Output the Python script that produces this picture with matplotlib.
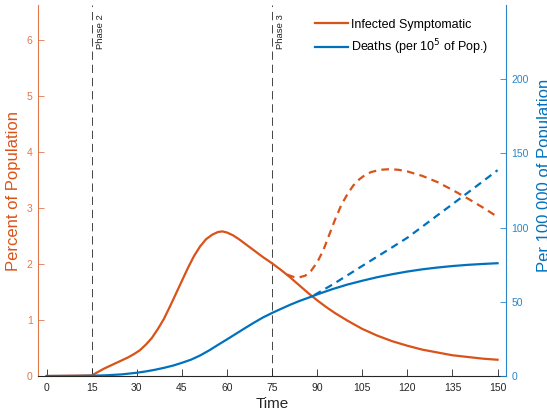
import numpy as np
import matplotlib
matplotlib.use("Agg")
import matplotlib.pyplot as plt

plt.rcParams['font.family'] = ['Liberation Sans', 'DejaVu Sans']
plt.rcParams['lines.scale_dashes'] = False

# infected symptomatic (% of population), solid
inf_x = [0, 15, 17, 19, 21, 23, 25, 27, 29, 31, 33, 35, 37, 39, 41, 43, 45, 47, 49, 51, 53,
         55, 57, 58.5, 60, 62, 64, 66, 68, 70, 72, 75, 78, 81, 84, 87, 90, 93, 96, 100, 105,
         110, 115, 120, 125, 130, 135, 140, 145, 150]
inf_y = [0, 0.01, 0.07, 0.13, 0.18, 0.23, 0.28, 0.33, 0.39, 0.46, 0.56, 0.68, 0.84, 1.02,
         1.24, 1.47, 1.7, 1.93, 2.14, 2.31, 2.44, 2.52, 2.57, 2.58, 2.56, 2.51, 2.44, 2.36,
         2.28, 2.2, 2.12, 2.01, 1.89, 1.76, 1.62, 1.48, 1.35, 1.23, 1.12, 0.99, 0.84, 0.72,
         0.62, 0.54, 0.47, 0.42, 0.37, 0.34, 0.31, 0.29]

# infected symptomatic, dashed scenario
inf2_x = [80, 82, 84, 86, 88, 90, 92, 94, 96, 98, 100, 102, 104, 106, 108, 111, 114, 117,
          120, 125, 130, 135, 140, 145, 150]
inf2_y = [1.81, 1.77, 1.76, 1.79, 1.88, 2.03, 2.24, 2.52, 2.8, 3.05, 3.24, 3.4, 3.51, 3.59,
          3.64, 3.68, 3.69, 3.68, 3.65, 3.57, 3.46, 3.32, 3.17, 3.01, 2.84]

# deaths per 100 000, solid
dth_x = [0, 10, 15, 20, 25, 30, 33, 36, 39, 42, 45, 48, 51, 54, 57, 60, 63, 66, 69, 72, 75,
         78, 81, 84, 87, 90, 95, 100, 105, 110, 115, 120, 125, 130, 135, 140, 145, 150]
dth_y = [0, 0.05, 0.2, 0.5, 1.1, 2.2, 3.1, 4.2, 5.5, 7.0, 8.9, 11.0, 13.8, 17.2, 21.0, 24.7,
         28.5, 32.3, 36.0, 39.5, 42.5, 45.3, 48.0, 50.5, 52.7, 55.0, 58.5, 61.6, 64.2, 66.6,
         68.6, 70.4, 71.9, 73.1, 74.1, 74.9, 75.5, 76.0]

# deaths per 100 000, dashed scenario
dth2_x = [89, 95, 100, 105, 110, 115, 120, 125, 130, 135, 140, 145, 150]
dth2_y = [54.5, 61.5, 67.8, 74.2, 80.5, 86.8, 93.2, 100.7, 108.3, 115.8, 123.4, 131.0, 138.7]

phases = [15, 75]
phase_labels = ['Phase 2', 'Phase 3']

orange = '#D95319'
blue = '#0072BD'
orange_ax = '#E2784A'
blue_ax = '#2A86C8'

fig = plt.figure(figsize=(5.47, 4.17), dpi=100)
ax = fig.add_axes([0.070, 0.0983, 0.855, 0.8897])
ax2 = ax.twinx()

for p, lab in zip(phases, phase_labels):
    ax.axvline(p, color='#444444', lw=0.7, dashes=[6, 3.5], zorder=1)
    ax.text(p + 1.3, 6.46, lab, rotation=90, fontsize=6.8, va='top', ha='left',
            color='#222222')

l1, = ax.plot(inf_x, inf_y, color=orange, lw=1.6, zorder=3)
ax.plot(inf2_x, inf2_y, color=orange, lw=1.6, dashes=[5.5, 3.8], zorder=3)
l2, = ax2.plot(dth_x, dth_y, color=blue, lw=1.6, zorder=3)
ax2.plot(dth2_x, dth2_y, color=blue, lw=1.6, dashes=[5.5, 3.8], zorder=3)

ax.set_xlim(-2.8, 152.8)
ax.set_ylim(0, 6.62)
ax2.set_ylim(0, 250)

ax.set_xticks(np.arange(0, 151, 15))
ax.set_yticks(range(0, 7))
ax2.set_yticks([0, 50, 100, 150, 200])

for s in ['top', 'right']:
    ax.spines[s].set_visible(False)
for s in ['top', 'left', 'bottom']:
    ax2.spines[s].set_visible(False)
ax.spines['left'].set_color(orange_ax)
ax.spines['bottom'].set_color('#262626')
ax2.spines['right'].set_color(blue_ax)
for s in [ax.spines['left'], ax.spines['bottom'], ax2.spines['right']]:
    s.set_linewidth(0.8)

ax.tick_params(axis='x', direction='in', length=5, width=0.6, colors='#262626',
               labelsize=7.5, pad=5)
ax.tick_params(axis='y', direction='in', length=4, width=0.6, colors=orange_ax,
               labelsize=7.5, pad=4)
ax2.tick_params(axis='y', direction='in', length=4, width=0.6, colors=blue_ax,
                labelsize=7.5, pad=4)

ax.set_xlabel('Time', fontsize=11, color='#262626', labelpad=3)
ax.set_ylabel('Percent of Population', fontsize=12, color=orange)
ax2.set_ylabel('Per 100 000 of Population', fontsize=12, color=blue)
ax2.yaxis.set_label_coords(1.066, 0.54)

ax.legend([l1, l2], ['Infected Symptomatic', 'Deaths (per 10$^5$ of Pop.)'],
          loc='upper left', bbox_to_anchor=(0.568, 0.993), frameon=False,
          fontsize=9, handlelength=2.6, handletextpad=0.3, labelspacing=0.5)

fig.savefig('out.png', dpi=100)
